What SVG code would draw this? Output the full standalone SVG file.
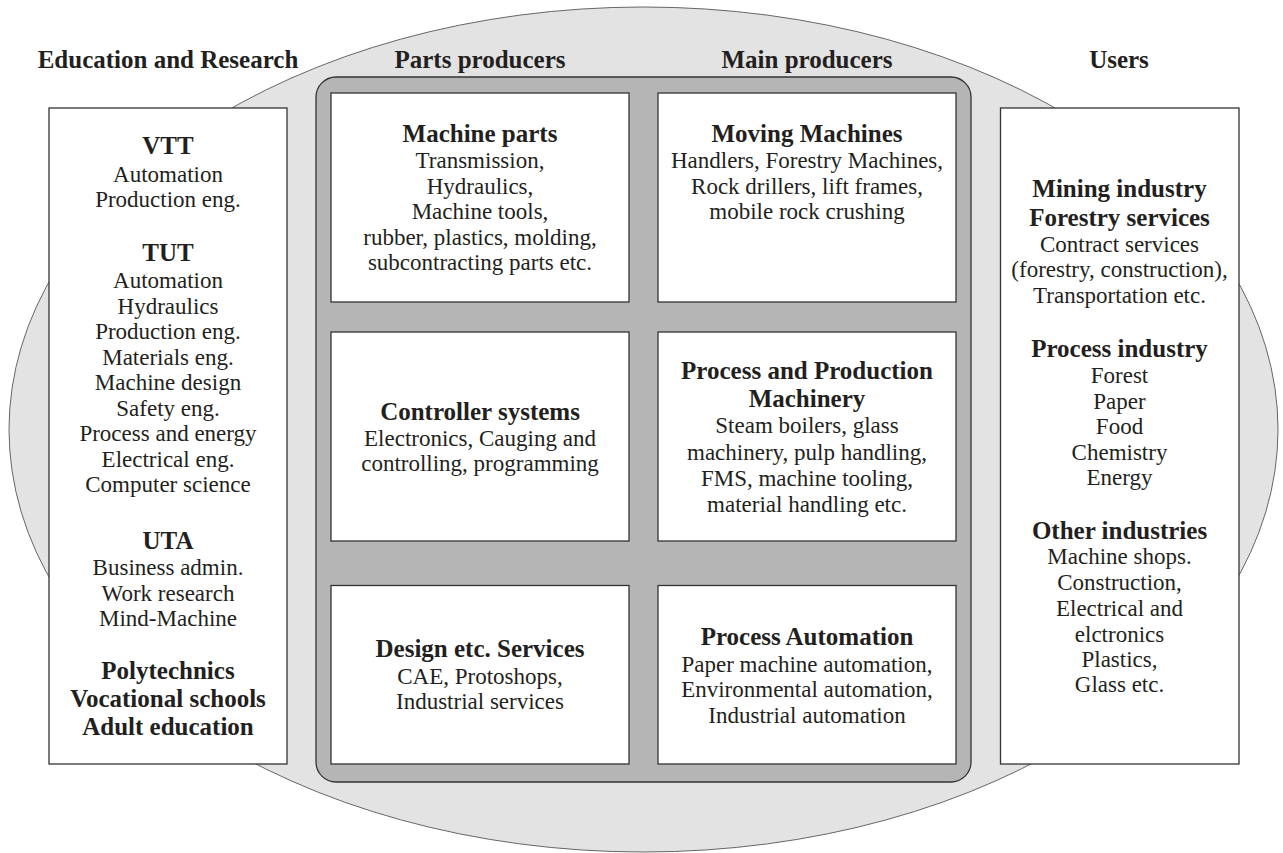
<svg xmlns="http://www.w3.org/2000/svg" width="1283" height="853" viewBox="0 0 1283 853">
<style>
text{font-family:"Liberation Serif","Times New Roman",serif;fill:#231f20;text-anchor:middle}
.h{font-size:25px;font-weight:bold}
.b{font-size:25px;font-weight:bold}
.r{font-size:23px}
.box{fill:#ffffff;stroke:#333333;stroke-width:1.3}
</style>
<rect x="0" y="0" width="1283" height="853" fill="#ffffff"/>
<g id="background">
<ellipse cx="643.5" cy="429.5" rx="634.5" ry="422.5" fill="#e3e3e3" stroke="#666666" stroke-width="1"/>
<rect x="316" y="77" width="655" height="705" rx="20" ry="20" fill="#b5b5b5" stroke="#333333" stroke-width="1.3"/>
</g>
<g id="headers">
<text class="h" x="168" y="68">Education and Research</text>
<text class="h" x="480" y="68">Parts producers</text>
<text class="h" x="807" y="68">Main producers</text>
<text class="h" x="1119" y="68">Users</text>
</g>
<g id="education">
<rect class="box" x="49" y="108" width="238" height="656"/>
<text class="b" x="168" y="154">VTT</text>
<text class="r" x="168" y="182">Automation</text>
<text class="r" x="168" y="207">Production eng.</text>
<text class="b" x="168" y="261">TUT</text>
<text class="r" x="168" y="288">Automation</text>
<text class="r" x="168" y="313.5">Hydraulics</text>
<text class="r" x="168" y="339">Production eng.</text>
<text class="r" x="168" y="364.5">Materials eng.</text>
<text class="r" x="168" y="390">Machine design</text>
<text class="r" x="168" y="415.5">Safety eng.</text>
<text class="r" x="168" y="441">Process and energy</text>
<text class="r" x="168" y="466.5">Electrical eng.</text>
<text class="r" x="168" y="492">Computer science</text>
<text class="b" x="168" y="549">UTA</text>
<text class="r" x="168" y="575">Business admin.</text>
<text class="r" x="168" y="601">Work research</text>
<text class="r" x="168" y="626">Mind-Machine</text>
<text class="b" x="168" y="679">Polytechnics</text>
<text class="b" x="168" y="707">Vocational schools</text>
<text class="b" x="168" y="735">Adult education</text>
</g>
<g id="machine-parts">
<rect class="box" x="331" y="93" width="298" height="209"/>
<text class="b" x="480" y="142">Machine parts</text>
<text class="r" x="480" y="168">Transmission,</text>
<text class="r" x="480" y="193.5">Hydraulics,</text>
<text class="r" x="480" y="219">Machine tools,</text>
<text class="r" x="480" y="244.5">rubber, plastics, molding,</text>
<text class="r" x="480" y="270">subcontracting parts etc.</text>
</g>
<g id="moving-machines">
<rect class="box" x="658" y="93" width="298" height="209"/>
<text class="b" x="807" y="142">Moving Machines</text>
<text class="r" x="807" y="168">Handlers, Forestry Machines,</text>
<text class="r" x="807" y="193.5">Rock drillers, lift frames,</text>
<text class="r" x="807" y="219">mobile rock crushing</text>
</g>
<g id="controller-systems">
<rect class="box" x="331" y="332" width="298" height="209"/>
<text class="b" x="480" y="419.5">Controller systems</text>
<text class="r" x="480" y="445.5">Electronics, Cauging and</text>
<text class="r" x="480" y="471">controlling, programming</text>
</g>
<g id="process-production">
<rect class="box" x="658" y="332" width="298" height="209"/>
<text class="b" x="807" y="379">Process and Production</text>
<text class="b" x="807" y="407">Machinery</text>
<text class="r" x="807" y="433">Steam boilers, glass</text>
<text class="r" x="807" y="459.5">machinery, pulp handling,</text>
<text class="r" x="807" y="485.5">FMS, machine tooling,</text>
<text class="r" x="807" y="511.5">material handling etc.</text>
</g>
<g id="design-services">
<rect class="box" x="331" y="585.5" width="298" height="178.5"/>
<text class="b" x="480" y="657">Design etc. Services</text>
<text class="r" x="480" y="684">CAE, Protoshops,</text>
<text class="r" x="480" y="709">Industrial services</text>
</g>
<g id="process-automation">
<rect class="box" x="658" y="585.5" width="298" height="178.5"/>
<text class="b" x="807" y="645">Process Automation</text>
<text class="r" x="807" y="671.5">Paper machine automation,</text>
<text class="r" x="807" y="697">Environmental automation,</text>
<text class="r" x="807" y="722.5">Industrial automation</text>
</g>
<g id="users">
<rect class="box" x="1000.5" y="108" width="238.5" height="656"/>
<text class="b" x="1119.5" y="197">Mining industry</text>
<text class="b" x="1119.5" y="225.5">Forestry services</text>
<text class="r" x="1119.5" y="251.5">Contract services</text>
<text class="r" x="1119.5" y="277">(forestry, construction),</text>
<text class="r" x="1119.5" y="302.5">Transportation etc.</text>
<text class="b" x="1119.5" y="357">Process industry</text>
<text class="r" x="1119.5" y="383">Forest</text>
<text class="r" x="1119.5" y="408.5">Paper</text>
<text class="r" x="1119.5" y="434">Food</text>
<text class="r" x="1119.5" y="459.5">Chemistry</text>
<text class="r" x="1119.5" y="485">Energy</text>
<text class="b" x="1119.5" y="539">Other industries</text>
<text class="r" x="1119.5" y="564">Machine shops.</text>
<text class="r" x="1119.5" y="590">Construction,</text>
<text class="r" x="1119.5" y="616">Electrical and</text>
<text class="r" x="1119.5" y="641.5">elctronics</text>
<text class="r" x="1119.5" y="667">Plastics,</text>
<text class="r" x="1119.5" y="692">Glass etc.</text>
</g>
<g id="connectors"></g>
</svg>
